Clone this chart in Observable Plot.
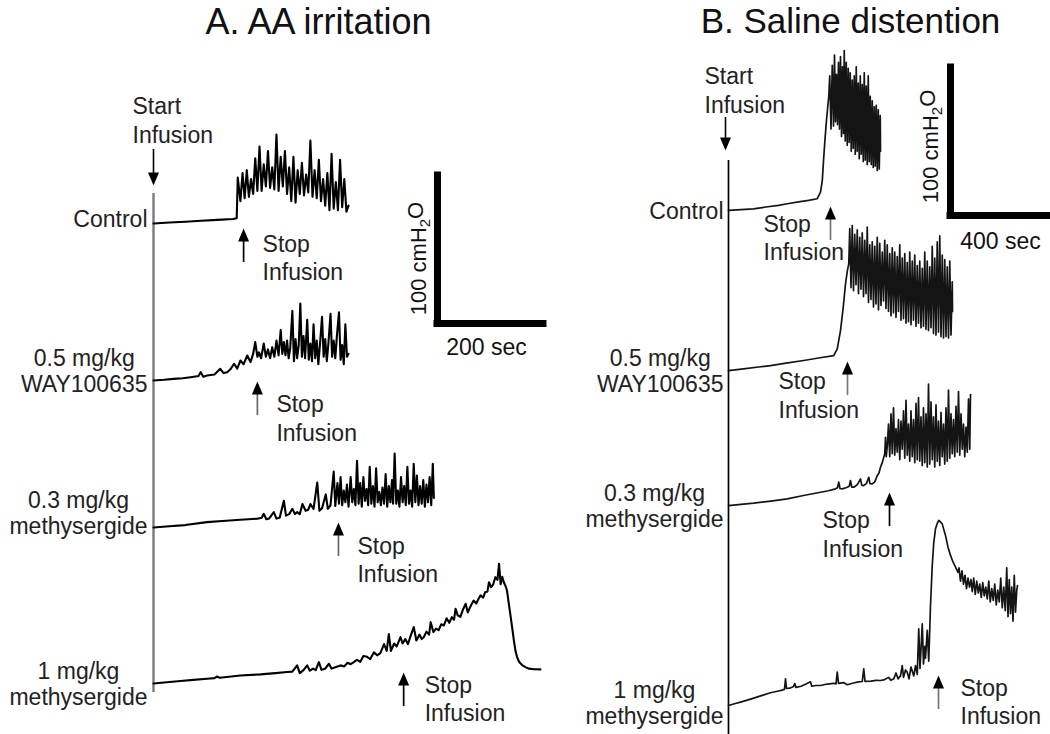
<!DOCTYPE html>
<html><head><meta charset="utf-8">
<script src="https://cdn.jsdelivr.net/npm/d3@7"></script>
<script src="https://cdn.jsdelivr.net/npm/@observablehq/plot@0.6"></script>
<style>
body{margin:0;background:#fff;}
#fig{display:flex;width:1050px;height:734px;overflow:hidden;background:#fff;}
#fig svg{display:block;flex:none;}
</style></head><body><div id="fig"></div>
<script>
// ---------------- DATA (time in s, pressure in cmH2O above trace start) ----------------
const traceLabels = ["Control", "0.5 mg/kg\nWAY100635", "0.3 mg/kg\nmethysergide", "1 mg/kg\nmethysergide"];
const panelTitles = ["A. AA irritation", "B. Saline distention"];
const scaleSecA = 200, scaleSecB = 400, scaleCm = 100;

// Panel A: AA irritation
const aControl = [[0,0],[30,0.6],[60,1.2],[90,1.8],[120,2.4],[150,3],[157,3.5],[159,31],[164,15],[168,34],[172,17],[176,36],[180,18],[184,30],[188,20],[192,44],[196,22],[200,52],[204,22],[208,40],[212,25],[216,49],[220,24],[224,38],[228,23],[232,60],[236,22],[240,45],[244,25],[248,49],[252,20],[256,38],[260,15],[264,45],[268,14],[272,36],[276,20],[280,41],[284,19],[288,33],[292,21],[296,56],[300,18],[304,36],[308,17],[312,43],[316,15],[320,30],[324,12],[328,34],[332,9],[336,47],[340,10],[344,28],[348,9],[352,43],[356,11],[360,30],[364,8],[368,12]];
const aWay = [[0,0],[20,0.5],[38,1.1],[55,1.5],[70,2.2],[85,3],[89,5.6],[94,2.5],[101,3.4],[115,4],[126,7.9],[132,5],[139,5.6],[146,8],[152,11.3],[158,8],[164,13.5],[170,11],[177,16.9],[183,12.4],[188,18],[192,25.9],[196,16],[199,19],[203,15],[208,25],[212,16],[216,21],[220,15],[224,22.5],[228,16],[232,27],[236,17],[240,34],[243,18],[246,26],[249,17],[252,27],[255,15],[258,22],[262,47],[265,13],[268,28],[271,15],[274,24],[277,52],[280,16],[283,30],[286,15],[290,41],[293,14],[296,25],[299,13],[302,38],[305,15],[308,27],[311,11],[314,24],[318,43],[321,16],[324,28],[327,13],[330,25],[334,45],[337,16],[340,27],[343,15],[346,30],[350,46],[353,14],[356,24],[359,11],[362,38],[365,16],[368,18]];
const aMeth03 = [[0,0],[30,0.8],[60,1.6],[101,3.6],[130,4.4],[164,5.2],[196,5.9],[204,6.5],[208,9.2],[213,5.5],[218,6],[227,10.4],[232,6],[238,6.5],[246,18],[250,8],[256,9],[262,12.6],[267,9],[271,10.4],[276,9],[281,15.8],[287,11.3],[292,12],[296,15.8],[302,12.6],[309,30.4],[313,11.3],[318,13],[325,22.3],[329,12.6],[334,15],[340,37.8],[343,14.6],[347,30],[350,16],[353,34],[356,15],[359,25],[362,17],[365,29],[368,14],[372,34],[375,17],[378,26],[381,15],[384,45],[387,16],[390,30],[393,14],[396,34],[399,18],[402,26],[405,15],[408,41],[411,16],[414,28],[417,14],[420,40],[423,17],[426,24],[429,15],[432,27],[435,16],[438,36],[441,14],[444,28],[447,17],[450,32],[452,16],[455,50],[458,16],[461,25],[464,14],[467,34],[470,17],[473,28],[476,15],[479,41],[482,16],[485,25],[488,14],[491,43],[494,17],[497,35],[500,15],[503,28],[506,16],[509,32],[512,14],[515,29],[518,17],[521,34],[524,15],[527,43],[529,20]];
const aMeth1 = [[0,0],[25,0.8],[51,1.6],[75,2.4],[101,3.2],[115,3.6],[120,4.7],[125,3.8],[164,5.4],[202,6.1],[230,7],[252,7.7],[262,8],[271,12.2],[276,7],[283,9],[290,12.2],[295,8.6],[301,10],[306,9],[312,14.4],[317,9.2],[324,10],[331,13.3],[336,10],[343,11],[353,12.2],[360,11.5],[366,14],[372,13],[378,14.4],[384,16],[390,14.5],[396,18.5],[403,18],[409,16.5],[416,21],[422,19],[428,20.5],[435,26.6],[440,22],[444,33.3],[448,22],[454,27],[459,25],[466,31.3],[470,27],[475,30],[480,26.6],[486,33],[491,38.1],[496,29],[502,33],[506,30],[510,31.3],[515,35],[520,33],[523,41.4],[528,34.7],[533,37],[538,36],[543,40],[548,39.2],[553,44],[558,41],[563,44.8],[567,43],[570,50.5],[574,46],[579,45],[584,50],[589,53.8],[593,48],[598,52],[604,56],[609,54],[613,57],[617,59.5],[622,58],[626,61.8],[630,62],[633,68.4],[637,65],[641,67],[645,71.8],[649,70],[652,80.9],[655,67],[658,72],[661,68.4],[664,66],[667,62.8],[670,55],[674,44.8],[677,37],[680,29],[683,22],[686,17.8],[690,14.5],[696,12.2],[702,11],[708,10],[718,9.6],[730,9.5]];
const stopTimesA = [170, 196, 349, 472];

// Panel B: saline distention
const bControl = [[0,0],[50,0.6],[100,1.1],[150,2.3],[200,3.4],[235,4.5],[280,5.8],[320,6.8],[355,7.9],[368,12.4],[375,20],[381,36],[386,48],[392,61],[397,70],[401,77],[405,91],[410,55],[415,98],[420,57],[424,105],[428,60],[432,92],[436,58],[440,100],[444,55],[448,104],[452,50],[456,97],[460,52],[463,108],[467,47],[471,100],[475,44],[479,96],[483,46],[487,93],[491,40],[495,88],[499,42],[503,91],[507,38],[511,97],[515,40],[519,86],[523,35],[527,91],[531,38],[535,85],[539,33],[543,93],[547,34],[551,84],[555,31],[559,91],[563,33],[567,77],[571,31],[575,74],[579,29],[583,70],[587,30],[591,71],[595,27],[599,68],[603,28],[607,64],[608,40]];
const bWay = [[0,0],[60,1.2],[120,2.4],[168,3.4],[230,5],[301,6.8],[360,8.5],[421,10.1],[435,14.6],[448,27],[459,42.8],[468,58.6],[476,68],[481,72],[485,96],[490,56],[495,98],[500,54],[505,92],[510,58],[515,95],[520,52],[525,90],[530,55],[535,93],[540,50],[545,88],[550,52],[555,97],[560,46],[565,85],[570,48],[575,87],[580,43],[585,84],[590,45],[595,90],[600,41],[605,86],[610,44],[615,80],[620,47],[625,88],[630,42],[635,85],[640,40],[645,79],[650,37],[655,83],[660,39],[665,80],[670,36],[675,77],[680,40],[685,85],[690,34],[695,76],[700,35],[705,79],[710,32],[715,73],[720,33],[725,80],[730,31],[735,74],[740,34],[745,78],[750,30],[755,71],[760,32],[765,74],[770,29],[775,69],[780,30],[785,80],[790,28],[795,74],[800,27],[805,70],[810,29],[815,84],[820,25],[825,76],[830,24],[835,87],[840,26],[845,91],[850,23],[855,78],[860,22],[865,75],[870,23],[875,70],[880,22],[885,74],[890,24],[895,60],[896,40]];
const bMeth03 = [[0,0],[50,0.8],[101,1.6],[170,3],[235,4.5],[300,6.8],[368,9],[400,10],[428,11.3],[436,12],[441,15.8],[446,11.5],[455,11.3],[470,12],[483,13],[488,16.9],[493,12.5],[501,12.4],[515,14],[528,18],[533,13.8],[541,13.5],[552,15],[561,19.1],[566,14.8],[575,14.6],[585,16],[595,20.3],[602,22],[608,25.9],[615,29],[621,32.6],[625,35],[628,46],[631,33],[635,40],[640,55],[645,33],[650,62],[655,35],[660,66],[665,34],[670,52],[675,36],[680,58],[685,31],[690,57],[695,38],[700,64],[705,32],[710,71],[715,34],[720,55],[725,30],[730,64],[735,33],[740,58],[745,29],[750,69],[755,31],[760,73],[765,30],[770,60],[775,27],[780,66],[785,29],[790,62],[795,26],[800,82],[805,28],[810,70],[815,31],[820,60],[825,26],[830,68],[835,30],[840,57],[845,27],[850,63],[855,33],[860,55],[865,28],[870,66],[875,30],[880,78],[885,32],[890,62],[895,35],[900,58],[905,33],[910,67],[915,36],[920,77],[925,34],[930,62],[935,38],[940,55],[945,33],[950,53],[955,36],[960,72],[965,38],[968,75]];
const bMeth1 = [[0,0],[24,1.2],[48,2.3],[75,3.6],[101,5],[135,6.8],[168,8.6],[200,9.8],[215,10.4],[224,11],[228,18],[232,11.5],[245,11.7],[260,12.8],[265,14.8],[270,12.2],[290,13],[310,14.5],[328,16],[333,13],[350,13.5],[368,13.5],[395,14.5],[420,15],[430,14.6],[435,22.5],[440,15],[460,15.5],[475,14],[500,15.2],[520,16],[535,16.2],[541,24.8],[546,16.3],[570,16.5],[590,17],[608,16.9],[625,17.5],[640,19],[650,17],[661,18],[670,22],[678,18],[688,20],[695,27],[700,19],[708,24],[715,22.5],[722,18],[730,26],[741,20],[748,27],[755,21],[761,51.8],[766,25],[770,38],[775,55.2],[780,28],[785,40],[788,32],[795,50.7],[801,30],[808,67.6],[815,94.6],[821,110],[828,119.4],[835,123],[841,125],[848,124],[855,122.7],[861,119],[868,114.9],[878,107],[888,101.4],[898,97],[908,93.5],[918,90],[922,93],[928,84],[934,91],[940,82],[946,88],[952,79],[958,86],[964,80],[970,85],[975,77],[981,86],[987,75],[993,84],[999,76],[1005,82],[1011,73],[1017,83],[1023,74],[1029,80],[1035,72],[1041,84],[1047,70],[1053,79],[1059,71],[1065,82],[1071,68],[1077,78],[1083,70],[1089,86],[1095,66],[1101,80],[1107,64],[1113,93],[1118,60],[1123,85],[1128,62],[1133,80],[1138,57],[1143,88],[1148,63],[1153,78],[1156,81]];
const stopTimesB = [408, 476, 644, 840];

// ---------------- LAYOUT ----------------
const H = 734, PX_PER_CM = 1.48;
const FONT = '"Liberation Sans", Arial, Helvetica, sans-serif';
const FS = 23;
const mctx = document.createElement("canvas").getContext("2d");
function textWidth(s, size) { mctx.font = `${size}px ${FONT}`; return mctx.measureText(s).width; }
const upHead = {draw(c) { c.moveTo(0, 0); c.lineTo(5.5, 13); c.lineTo(-5.5, 13); c.closePath(); }};
const downHead = {draw(c) { c.moveTo(0, 0); c.lineTo(5.5, -13); c.lineTo(-5.5, -13); c.closePath(); }};

function panel(cfg) {
  const {width, axisPx, pxPerSec, traces, offsets, stopTimes} = cfg;
  const rows = traces.flatMap((arr, i) => arr.map(([t, p]) => ({trace: i, t, v: offsets[i] + p})));
  const marks = [];
  // trace-start axis
  marks.push(Plot.ruleX([0], {y1: offsets[0] + cfg.axisTop, y2: offsets[3] + cfg.axisBottom, stroke: cfg.axisColor, strokeWidth: cfg.axisWidth}));
  // traces
  marks.push(Plot.line(rows, {x: "t", y: "v", z: "trace", stroke: "#000", strokeWidth: cfg.lineWidth, strokeOpacity: cfg.lineOpacity}));
  // start infusion arrow
  const startTip = offsets[0] + cfg.startTip, startTail = startTip + cfg.startLen;
  marks.push(Plot.ruleX([cfg.startT], {y1: startTip + 4, y2: startTail, stroke: "#000", strokeWidth: 1.6}));
  marks.push(Plot.dot([cfg.startT], {x: d => d, y: () => startTip, symbol: downHead, r: 5, fill: "#000", stroke: "none"}));
  marks.push(Plot.text(["Start\nInfusion"], {x: () => cfg.startT, y: () => startTail, text: d => d, textAnchor: "start", lineAnchor: "bottom", dx: cfg.startTextDx, dy: cfg.startTextDy, fontSize: FS, lineHeight: 1.3, fill: "#222"}));
  // stop infusion arrows
  const stops = stopTimes.map((t, i) => ({t, tip: offsets[i] + cfg.stopTip[i], i}));
  marks.push(Plot.ruleX(stops, {x: "t", y1: d => d.tip - 4, y2: d => d.tip - 23, stroke: d => cfg.shaftColors[d.i], strokeWidth: 1.7}));
  marks.push(Plot.dot(stops, {x: "t", y: "tip", symbol: upHead, r: 5, fill: "#000", stroke: "none"}));
  stops.forEach((d, i) => {
    marks.push(Plot.text(["Stop\nInfusion"], {x: () => d.t, y: () => d.tip, text: s => s, textAnchor: "start", lineAnchor: "middle", dx: cfg.stopTextDx[i], dy: cfg.stopTextDy[i], fontSize: FS, lineHeight: 1.22, fill: "#222"}));
  });
  // trace labels (centered blocks, right edge just left of axis)
  traceLabels.forEach((s, i) => {
    const w = Math.max(...s.split("\n").map(l => textWidth(l, FS)));
    marks.push(Plot.text([s], {x: () => -(cfg.labelGap + w / 2) / pxPerSec, y: () => offsets[i], text: d => d, textAnchor: "middle", lineAnchor: "middle", dy: cfg.labelDy[i], fontSize: FS, lineHeight: 1.12, fill: "#222"}));
  });
  // scale bars
  marks.push(Plot.ruleX([cfg.barT], {y1: cfg.barV, y2: cfg.barV + scaleCm, stroke: "#000", strokeWidth: 7, strokeLinecap: "square"}));
  marks.push(Plot.ruleY([cfg.barV], {x1: cfg.barT, x2: cfg.barT + cfg.barSec, stroke: "#000", strokeWidth: 7, strokeLinecap: "square"}));
  marks.push(Plot.text([`${scaleCm} cmH2O`], {x: () => cfg.barT, y: () => cfg.barV + scaleCm / 2, text: d => d, rotate: -90, textAnchor: "middle", lineAnchor: "middle", dx: cfg.cmTextDx, dy: cfg.cmTextDy, fontSize: 22, fill: "#111"}));
  marks.push(Plot.text([`${cfg.barSec} sec`], {x: () => cfg.barT + cfg.barSec / 2, y: () => cfg.barV, text: d => d, textAnchor: "middle", lineAnchor: "middle", dx: cfg.secTextDx, dy: cfg.secTextDy, fontSize: FS, fill: "#111"}));
  // title
  marks.push(Plot.text([cfg.title], {frameAnchor: "top-left", text: d => d, textAnchor: "middle", lineAnchor: "top", dx: cfg.titleCenter, dy: cfg.titleTop, fontSize: cfg.titleSize, fill: "#111"}));

  const svg = Plot.plot({
    width, height: H, margin: 0,
    x: {domain: [-axisPx / pxPerSec, (width - axisPx) / pxPerSec], range: [0, width], axis: null},
    y: {domain: [0, H / PX_PER_CM], range: [H, 0], axis: null},
    style: {fontFamily: FONT, fontSize: FS + "px", background: "#fff", overflow: "visible"},
    marks
  });
  // subscript "2" in cmH2O
  svg.querySelectorAll("text").forEach(el => {
    if (el.textContent === `${scaleCm} cmH2O`) {
      el.textContent = "";
      const ns = "http://www.w3.org/2000/svg";
      const a = document.createElementNS(ns, "tspan"); a.textContent = `${scaleCm} cmH`;
      const b = document.createElementNS(ns, "tspan"); b.textContent = "2"; b.setAttribute("dy", "0.3em"); b.setAttribute("font-size", "15");
      const c = document.createElementNS(ns, "tspan"); c.textContent = "O"; c.setAttribute("dy", "-0.3em");
      el.append(a, b, c);
    }
  });
  return svg;
}

const panelA = panel({
  width: 560, axisPx: 153, pxPerSec: 0.53, title: panelTitles[0], titleCenter: 318, titleTop: 8, titleSize: 36,
  traces: [aControl, aWay, aMeth03, aMeth1], offsets: [345.3, 239.2, 139.9, 34.5],
  axisTop: 20.3, axisBottom: -6.1, axisColor: "#7a7a7a", axisWidth: 2.4, lineWidth: 2.1, lineOpacity: 1,
  startT: 0, startTip: 25.7, startLen: 24.3, startTextDx: -21, startTextDy: -6,
  stopTimes: stopTimesA, stopTip: [-3.4, -0.7, 3.4, 7.4], shaftColors: ["#000", "#666", "#666", "#000"],
  stopTextDx: [19, 19, 19, 21], stopTextDy: [29, 36, 37, 26],
  labelGap: 6, labelDy: [-5, -10, -15, 0],
  barT: 535.8, barV: 277.7, barSec: scaleSecA, cmTextDx: -19, cmTextDy: 9, secTextDx: -4, secTextDy: 24
});
const panelB = panel({
  width: 490, axisPx: 168, pxPerSec: 0.25, title: panelTitles[1], titleCenter: 290, titleTop: 8, titleSize: 35,
  traces: [bControl, bWay, bMeth03, bMeth1], offsets: [354.1, 245.9, 154.7, 19.6],
  axisTop: 33.8, axisBottom: -30, axisColor: "#000", axisWidth: 1.7, lineWidth: 1.7, lineOpacity: 0.92,
  startT: -12, startTip: 40.5, startLen: 22.3, startTextDx: -21, startTextDy: -4,
  stopTimes: stopTimesB, stopTip: [2.7, 6.1, 8.8, 20.3], shaftColors: ["#777", "#777", "#000", "#777"],
  stopTextDx: [-67, -69, -67, 22], stopTextDy: [31, 33, 41, 26],
  labelGap: 5, labelDy: [0, 0, 0, -3],
  barT: 888, barV: 350.7, barSec: scaleSecB, cmTextDx: -20, cmTextDy: 5, secTextDx: 0, secTextDy: 26
});
document.getElementById("fig").append(panelA, panelB);
</script></body></html>
